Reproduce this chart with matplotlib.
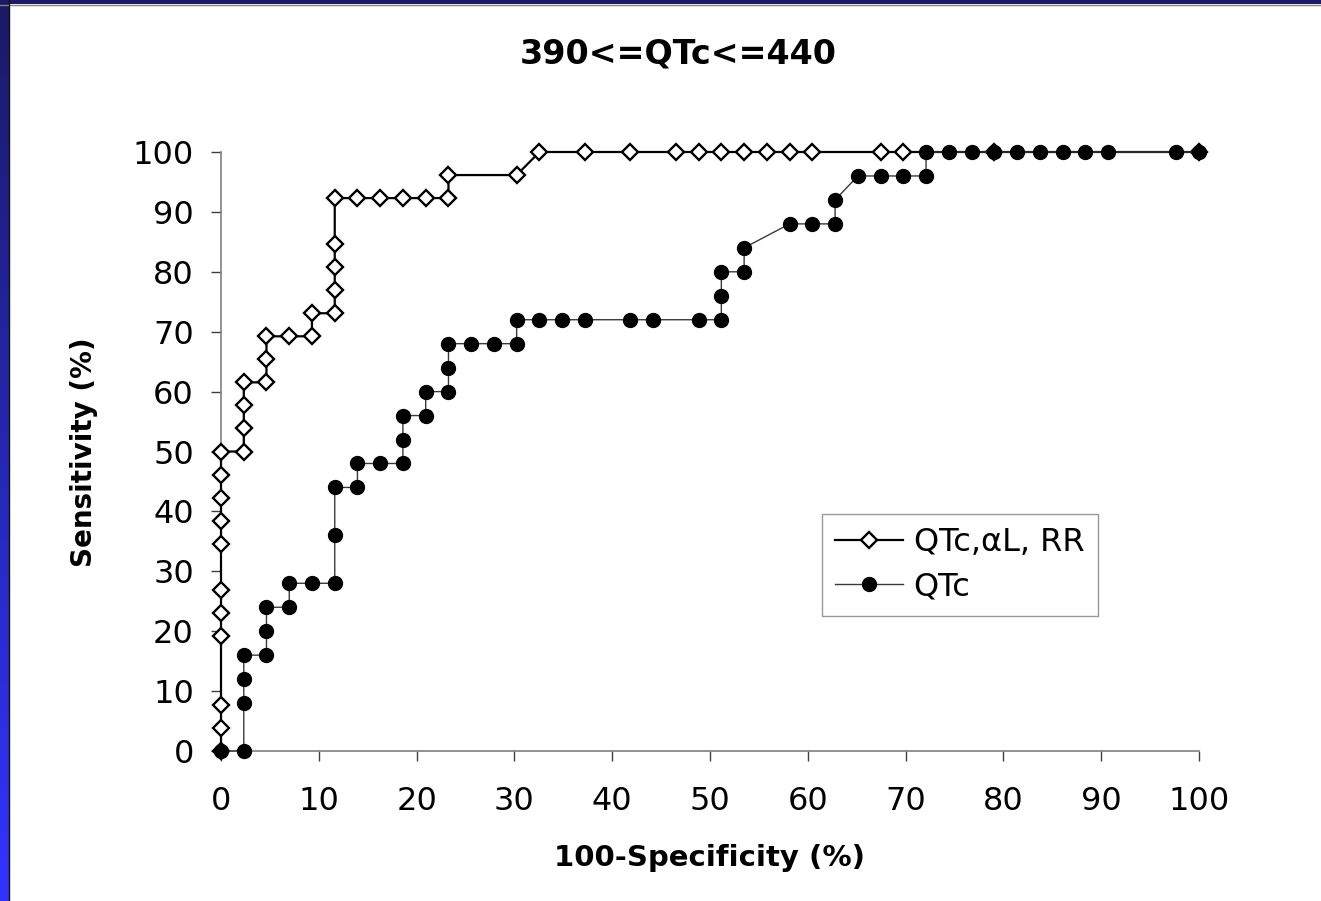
import matplotlib
matplotlib.use("Agg")
import matplotlib.pyplot as plt
import numpy as np
from matplotlib.colors import LinearSegmentedColormap

# --- data (x = 100-specificity %, y = sensitivity %) ---
combo_label = "QTc,\u03b1L, RR"
combo_x = [0, 0, 0, 0, 0, 0, 0, 0, 0, 0, 0,
           2.33, 2.33, 2.33, 2.33,
           4.65, 4.65, 4.65, 6.98, 9.30, 9.30,
           11.63, 11.63, 11.63, 11.63, 11.63,
           13.95, 16.28, 18.60, 20.93, 23.26, 23.26, 30.23,
           32.56, 37.21, 41.86, 46.51, 48.84, 51.16, 53.49, 55.81,
           58.14, 60.47, 67.44, 69.77, 79.07, 100]
combo_y = [0, 3.85, 7.69, 19.23, 23.08, 26.92, 34.62, 38.46, 42.31, 46.15, 50,
           50, 53.85, 57.69, 61.54,
           61.54, 65.38, 69.23, 69.23, 69.23, 73.08,
           73.08, 76.92, 80.77, 84.62, 92.31,
           92.31, 92.31, 92.31, 92.31, 92.31, 96.15, 96.15,
           100, 100, 100, 100, 100, 100, 100, 100,
           100, 100, 100, 100, 100, 100]

qtc_label = "QTc"
qtc_x = [0, 2.33, 2.33, 2.33, 2.33, 4.65, 4.65, 4.65, 6.98, 6.98,
         9.30, 11.63, 11.63, 11.63, 13.95, 13.95, 16.28, 18.60, 18.60, 18.60,
         20.93, 20.93, 23.26, 23.26, 23.26, 25.58, 27.91, 30.23, 30.23, 32.56,
         34.88, 37.21, 41.86, 44.19, 48.84, 51.16, 51.16, 51.16, 53.49, 53.49,
         58.14, 60.47, 62.79, 62.79, 65.12, 67.44, 69.77, 72.09, 72.09, 74.42,
         76.74, 79.07, 81.40, 83.72, 86.05, 88.37, 90.70, 97.67, 100]
qtc_y = [0, 0, 8, 12, 16, 16, 20, 24, 24, 28,
         28, 28, 36, 44, 44, 48, 48, 48, 52, 56,
         56, 60, 60, 64, 68, 68, 68, 68, 72, 72,
         72, 72, 72, 72, 72, 72, 76, 80, 80, 84,
         88, 88, 88, 92, 96, 96, 96, 96, 100, 100,
         100, 100, 100, 100, 100, 100, 100, 100, 100]

ticks = list(range(0, 101, 10))
title = "390<=QTc<=440"
xlabel = "100-Specificity (%)"
ylabel = "Sensitivity (%)"

W, H = 1321, 901
fig = plt.figure(figsize=(W / 100, H / 100), dpi=100)
fig.patch.set_facecolor("white")

# slide border: navy band on top, blue gradient strip on the left
band = fig.add_axes([0, 0, 9 / W, 1])
grad = np.linspace(0, 1, 256).reshape(-1, 1)
cm = LinearSegmentedColormap.from_list("slide", ["#1a1a66", "#3333ff"])
band.imshow(grad, aspect="auto", cmap=cm, extent=[0, 1, 1, 0])
band.set_axis_off()
fig.patches.append(plt.Rectangle((0, 1 - 4 / H), 1, 4 / H, transform=fig.transFigure,
                                 facecolor="#1a1a66", edgecolor="none"))
fig.lines.append(plt.Line2D([0, 1], [1 - 4.5 / H, 1 - 4.5 / H], transform=fig.transFigure,
                            color="#808080", lw=1))
fig.lines.append(plt.Line2D([8.5 / W, 8.5 / W], [0, 1], transform=fig.transFigure,
                            color="#111111", lw=1))

ax = fig.add_axes([221 / W, 150 / H, 978 / W, 599 / H])
ax.set_xlim(0, 100)
ax.set_ylim(0, 100)

ax.plot(combo_x, combo_y, color="black", lw=1.6, marker="D", markersize=8,
        markerfacecolor="white", markeredgecolor="black", markeredgewidth=1.7,
        clip_on=False, zorder=3, label=combo_label)
ax.plot(qtc_x, qtc_y, color="#3a3a3a", lw=1.0, marker="o", markersize=10,
        markerfacecolor="black", markeredgecolor="black",
        clip_on=False, zorder=4, label=qtc_label)

for s in ["top", "right"]:
    ax.spines[s].set_visible(False)
for s in ["left", "bottom"]:
    ax.spines[s].set_color("#808080")
    ax.spines[s].set_linewidth(1.2)

ax.set_xticks(ticks)
ax.set_yticks(ticks)
ax.tick_params(axis="both", direction="out", length=7.5, width=1, color="#404040",
               labelsize=23)
ax.tick_params(axis="x", pad=18)
ax.tick_params(axis="y", pad=12)

ax.set_xlabel(xlabel, fontsize=21, fontweight="bold", va="center")
ax.xaxis.set_label_coords(0.5, (751 - 858) / 599)
ax.set_ylabel(ylabel, fontsize=20, fontweight="bold", va="center")
ax.yaxis.set_label_coords((84 - 221) / 978, (751 - 452) / 599)

fig.text(678 / W, 1 - 54 / H, title, fontsize=24, fontweight="bold",
         ha="center", va="center")

leg = ax.legend(loc="upper left", bbox_to_anchor=((822 - 221) / 978, (751 - 514) / 599),
                fontsize=23, frameon=True, fancybox=False, handlelength=2.1,
                handletextpad=0.35, borderpad=0.42, labelspacing=0.4,
                borderaxespad=0)
leg.get_frame().set_edgecolor("#808080")
leg.get_frame().set_linewidth(1.0)

fig.savefig("out.png", dpi=100)
